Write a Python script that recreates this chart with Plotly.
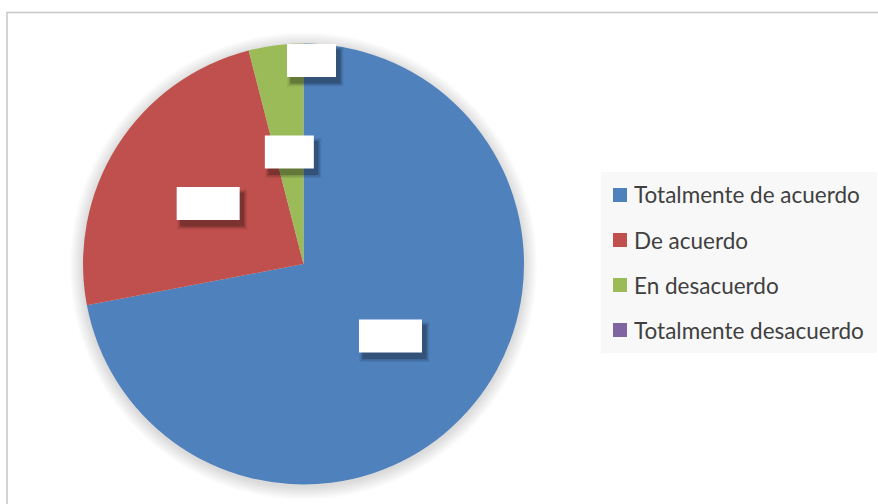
import math
import plotly.graph_objects as go

# ---- data ----
categories = ["Totalmente de acuerdo", "De acuerdo", "En desacuerdo", "Totalmente desacuerdo"]
values = [72, 24, 4, 0]
colors = ["#4F81BD", "#C0504D", "#9BBB59", "#8064A2"]
label_texts = [f"{v}%" for v in values]

W, H = 878, 504
CX, CY, R = 303.5, 264.0, 220.5


def px(x):
    return x / W


def py(y):
    return 1 - y / H


fig = go.Figure()
fig.add_trace(go.Pie(
    labels=categories,
    values=values,
    sort=False,
    direction="clockwise",
    rotation=0,
    marker=dict(colors=colors, line=dict(width=0)),
    textinfo="none",
    hoverinfo="label+percent",
    showlegend=False,
    domain=dict(x=[px(CX - R), px(CX + R)], y=[py(CY + R), py(CY - R)]),
))

shapes = []
annotations = []

# chart border
shapes.append(dict(type="rect", xref="paper", yref="paper",
                   x0=px(7), x1=px(885), y0=py(515), y1=py(12.5),
                   line=dict(color="#c6c6c6", width=1.5), fillcolor="rgba(0,0,0,0)", layer="below"))

# soft shadow around pie
for k in range(1, 13):
    rr = R + 1.1 * k
    shapes.append(dict(type="circle", xref="paper", yref="paper",
                       x0=px(CX - rr), x1=px(CX + rr), y0=py(CY + 2 + rr), y1=py(CY + 2 - rr),
                       line=dict(width=0), fillcolor="rgba(0,0,0,0.013)", layer="below"))

# data label boxes (white boxes with shadow)
total = sum(values)
cum = 0
for i, v in enumerate(values):
    frac = v / total
    mid = (cum + frac / 2) * 360
    cum += frac
    if v == 0:
        f, ang = 0.924, mid + 2.25
    else:
        f, ang = 0.512, mid
    a = math.radians(ang)
    lx = CX + f * R * math.sin(a)
    ly = CY - f * R * math.cos(a)
    bw = 14 * len(label_texts[i]) + 21
    bh = 33
    x0, x1 = lx - bw / 2, lx + bw / 2
    y0, y1 = ly - bh / 2, ly + bh / 2
    for e, op in [(3.5, 0.08), (2, 0.12), (0.5, 0.2)]:
        shapes.append(dict(type="rect", xref="paper", yref="paper",
                           x0=px(x0 + 4 - e), x1=px(x1 + 4 + e), y0=py(y1 + 6 + e), y1=py(y0 + 6 - e),
                           line=dict(width=0), fillcolor=f"rgba(0,0,0,{op})", layer="above"))
    shapes.append(dict(type="rect", xref="paper", yref="paper",
                       x0=px(x0), x1=px(x1), y0=py(y1), y1=py(y0),
                       line=dict(width=0), fillcolor="#ffffff", layer="above"))
    annotations.append(dict(xref="paper", yref="paper", x=px(lx), y=py(ly),
                            xanchor="center", yanchor="middle",
                            text=label_texts[i], showarrow=False,
                            font=dict(family="Lato", size=14, color="#ffffff")))

# legend (manual, Excel-like)
shapes.append(dict(type="rect", xref="paper", yref="paper",
                   x0=px(601), x1=px(877), y0=py(353), y1=py(172),
                   line=dict(width=0), fillcolor="#f8f8f8", layer="below"))
for i, (c, name) in enumerate(zip(colors, categories)):
    yc = 195 + 45 * i
    shapes.append(dict(type="rect", xref="paper", yref="paper",
                       x0=px(613), x1=px(627), y0=py(yc + 7), y1=py(yc - 7),
                       line=dict(width=0), fillcolor=c, layer="above"))
    annotations.append(dict(xref="paper", yref="paper", x=px(632), y=py(yc),
                            xanchor="left", yanchor="middle", text=name, showarrow=False,
                            font=dict(family="Lato", size=22.5, color="#404040")))

fig.update_layout(
    width=W, height=H,
    margin=dict(l=0, r=0, t=0, b=0),
    paper_bgcolor="#ffffff",
    plot_bgcolor="#ffffff",
    shapes=shapes,
    annotations=annotations,
    showlegend=False,
)

fig.write_html("out.html",
               config={"displayModeBar": False},
               post_script="document.body.style.margin='0';document.body.style.overflow='hidden';")
